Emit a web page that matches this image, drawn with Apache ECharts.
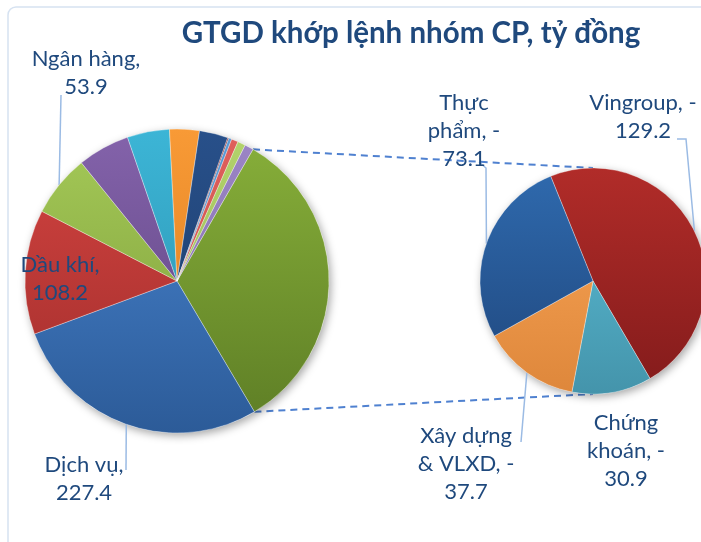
<!DOCTYPE html>
<html>
<head>
<meta charset="utf-8">
<script src="https://cdn.jsdelivr.net/npm/echarts@6/dist/echarts.min.js"></script>
<style>
    html, body { margin: 0; padding: 0; background: #fff; }
    #chart { width: 701px; height: 542px; }
</style>
</head>
<body>
<div id="chart"></div>
<script>
// main pie, clockwise starting with the aggregated slice (= second pie)
var mainNames = ['Khác', 'Dịch vụ', 'Dầu khí', 'Ngân hàng', 'Nhóm 5', 'Nhóm 6', 'Nhóm 7',
    'Nhóm 8', 'Nhóm 9', 'Nhóm 10', 'Nhóm 11', 'Nhóm 12', 'Nhóm 13'];
var mainValues = [null, 227.4, 108.2, 53.9, 45.3, 36.7, 25.8, 24.9, 1.0, 2.6, 5.8, 6.8, 7.6];

// second pie, clockwise from the top
var subNames = ['Vingroup', 'Chứng khoán', 'Xây dựng & VLXD', 'Thực phẩm'];
var subValues = [129.2, 30.9, 37.7, 73.1];
var subLabels = ['Vingroup, -', 'Chứng\nkhoán, -', 'Xây dựng\n& VLXD, -', 'Thực\nphẩm, -'];

var shownMain = ['Dịch vụ', 'Dầu khí', 'Ngân hàng'];

// the aggregated slice is the sum of the second pie
mainValues[0] = subValues.reduce(function (a, b) { return a + b; }, 0);

var mainColors = [
    ['#88b03a', '#5d7d25'], ['#4a87d3', '#2c5b98'], ['#d44441', '#a02d2b'], ['#a5ca58', '#7b9a38'],
    ['#8463ab', '#5b417d'], ['#3cb5d6', '#2a8eab'], ['#f89a36', '#d97a1c'], ['#28508a', '#1b3a66'],
    ['#8a2020', '#6e1818'], ['#5b9bd5', '#4a84bb'], ['#e0605c', '#c04a47'], ['#b3d36c', '#93b24f'],
    ['#9c86c6', '#7d68a6']
];
var subColors = [['#b12c29', '#831b1b'], ['#5dc1d9', '#4494ab'], ['#fba758', '#de873b'], ['#2f6aae', '#1f467c']];

var C1 = [177, 281], R1 = 152;
var C2 = [593, 281], R2 = 113;
var START1 = 30;   // degrees clockwise from 12 o'clock
var START2 = 338;

// label centre, and where its leader line ends
var labelPos = {
    'Ngân hàng': [86, 73],
    'Dầu khí': [60, 279],
    'Dịch vụ': [84, 479],
    'Vingroup': [643, 117],
    'Chứng khoán': [626, 451],
    'Xây dựng & VLXD': [466, 464],
    'Thực phẩm': [464, 131]
};
var leaderEnd = {
    'Ngân hàng': [[61, 95]],
    'Dịch vụ': [[126, 470]],
    'Vingroup': [[686, 139], [677, 139]],
    'Thực phẩm': [[486, 168], [479, 162]],
    'Xây dựng & VLXD': [[521, 442]]
};

function grad(c, cy, r) {
    return {
        type: 'linear', global: true, x: 0, y: cy - r, x2: 0, y2: cy + r,
        colorStops: [{ offset: 0, color: c[0] }, { offset: 1, color: c[1] }]
    };
}

var labelFont = {
    color: '#1f497d',
    fontFamily: 'Lato',
    fontSize: 22,
    lineHeight: 28
};

var mainData = mainNames.map(function (n, i) {
    var show = shownMain.indexOf(n) >= 0;
    return {
        name: n,
        value: mainValues[i],
        itemStyle: { color: grad(mainColors[i], C1[1], R1) },
        label: { show: show },
        labelLine: { show: !!leaderEnd[n] }
    };
});
var subData = subNames.map(function (n, i) {
    return {
        name: n,
        value: subValues[i],
        itemStyle: { color: grad(subColors[i], C2[1], R2) },
        label: { show: true, formatter: subLabels[i] + '\n' + subValues[i] },
        labelLine: { show: !!leaderEnd[n] }
    };
});

// dashed connectors from the aggregated slice to the second pie
function pt(c, r, deg) {
    var a = deg * Math.PI / 180;
    return [c[0] + r * Math.sin(a), c[1] - r * Math.cos(a)];
}
var total = mainValues.reduce(function (a, b) { return a + b; }, 0);
var aggEnd = START1 + 360 * mainValues[0] / total;
var p1 = pt(C1, R1, START1), p2 = pt(C1, R1, aggEnd);

var lineStyle = { stroke: '#4f81d0', lineWidth: 2, lineDash: [7, 5] };

function layoutFn(names) {
    return function (params) {
        var n = names[params.dataIndex];
        var p = labelPos[n];
        if (!p) return {};
        var res = { x: p[0], y: p[1], align: 'center', verticalAlign: 'middle' };
        if (leaderEnd[n] && params.labelLinePoints) {
            // first point is the slice's mid-angle point on the rim
            res.labelLinePoints = [params.labelLinePoints[0]].concat(leaderEnd[n]);
        }
        return res;
    };
}

var pieBase = {
    type: 'pie',
    clockwise: true,
    avoidLabelOverlap: false,
    itemStyle: { borderColor: 'rgba(255,255,255,0.45)', borderWidth: 0.7 },
    label: Object.assign({ position: 'outside' }, labelFont),
    labelLine: { length: 8, length2: 0, lineStyle: { color: '#9bbbe4', width: 1.5 } },
    emphasis: { disabled: true }
};

var option = {
    backgroundColor: '#fff',
    animation: false,
    title: {
        text: 'GTGD khớp lệnh nhóm CP, tỷ đồng',
        left: 406,
        top: 13,
        textAlign: 'center',
        textStyle: { color: '#1f497d', fontFamily: 'Lato', fontWeight: 'bold', fontSize: 29.5 }
    },
    graphic: [
        { type: 'rect', shape: { x: 8, y: 7, width: 720, height: 560, r: 8 },
          style: { fill: 'none', stroke: '#d6e2f1', lineWidth: 1.5 }, z: -10 },
        { type: 'line', shape: { x1: p1[0], y1: p1[1], x2: C2[0], y2: C2[1] - R2 }, style: lineStyle },
        { type: 'line', shape: { x1: p2[0], y1: p2[1], x2: C2[0], y2: C2[1] + R2 }, style: lineStyle }
    ],
    series: [
        // soft shadow under both pies
        {
            type: 'pie', silent: true, z: 1, center: C1, radius: R1,
            label: { show: false }, labelLine: { show: false },
            itemStyle: { color: '#fff', shadowBlur: 8, shadowOffsetX: 2, shadowOffsetY: 3, shadowColor: 'rgba(0,0,0,0.35)' },
            data: [1]
        },
        {
            type: 'pie', silent: true, z: 1, center: C2, radius: R2,
            label: { show: false }, labelLine: { show: false },
            itemStyle: { color: '#fff', shadowBlur: 8, shadowOffsetX: 2, shadowOffsetY: 3, shadowColor: 'rgba(0,0,0,0.35)' },
            data: [1]
        },
        Object.assign({}, pieBase, {
            name: 'main',
            z: 2,
            center: C1,
            radius: R1,
            startAngle: 90 - START1,
            label: Object.assign({}, pieBase.label, { formatter: '{b},\n{c}' }),
            labelLayout: layoutFn(mainNames),
            data: mainData
        }),
        Object.assign({}, pieBase, {
            name: 'sub',
            z: 2,
            center: C2,
            radius: R2,
            startAngle: 90 - START2,
            labelLayout: layoutFn(subNames),
            data: subData
        })
    ]
};

echarts.init(document.getElementById('chart')).setOption(option);
</script>
</body>
</html>
